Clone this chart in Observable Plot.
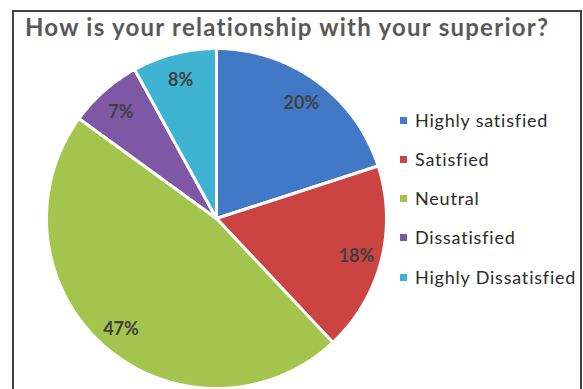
<!DOCTYPE html>
<html><head><meta charset="utf-8">
<script src="https://cdn.jsdelivr.net/npm/d3@7"></script>
<script src="https://cdn.jsdelivr.net/npm/@observablehq/plot@0.6"></script>
<style>
body{margin:0;background:#fff;}
#wrap{position:relative;width:583px;height:389px;overflow:hidden;font-family:Lato,sans-serif;background:#fff;}
#chart{position:absolute;left:0;top:0;}
#frame{position:absolute;left:12px;top:10px;width:566px;height:420px;border:2px solid #444;border-bottom:none;pointer-events:none;}
#title{position:absolute;left:25px;top:12px;font-weight:bold;font-size:24px;letter-spacing:1.25px;color:#595959;white-space:nowrap;}
.row{position:absolute;left:400px;height:20px;line-height:20px;display:flex;align-items:center;font-size:18px;letter-spacing:0.8px;color:#2b2b2b;white-space:nowrap;}
.sw{width:7px;height:7px;margin-right:8px;}
</style></head>
<body>
<div id="wrap">
  <div id="chart"></div>
  <div id="frame"></div>
  <div id="title">How is your relationship with your superior?</div>
  <div id="legend"></div>
</div>
<script>
const categories = ["Highly satisfied","Satisfied","Neutral","Dissatisfied","Highly Dissatisfied"];
const values = [20,18,47,7,8];
const labels = ["20%","18%","47%","7%","8%"];
const colors = ["#4179C6","#CB4441","#A3C54D","#7E57A5","#3EB4D2"];

const total = d3.sum(values);
let acc = 0;
const slices = categories.map((c,i)=>{
  const a0 = acc/total*2*Math.PI; acc += values[i];
  const a1 = acc/total*2*Math.PI;
  return {c, a0, a1, mid:(a0+a1)/2, label:labels[i]};
});
const verts = slices.flatMap(s=>{
  const n = Math.max(2, Math.ceil((s.a1-s.a0)/0.01));
  const pts = [{c:s.c,x:0,y:0}];
  for(let k=0;k<=n;k++){const a=s.a0+(s.a1-s.a0)*k/n; pts.push({c:s.c,x:Math.sin(a),y:Math.cos(a)});}
  pts.push({c:s.c,x:0,y:0});
  return pts;
});
const LR = 0.85;
const plot = Plot.plot({
  width:583, height:389, margin:0,
  style:{fontFamily:"Lato, sans-serif", background:"transparent"},
  x:{domain:[-1,1], range:[46,386], axis:null},
  y:{domain:[-1,1], range:[388,48], axis:null},
  color:{domain:categories, range:colors},
  marks:[
    Plot.line(verts,{x:"x",y:"y",z:"c",fill:"c",stroke:"white",strokeWidth:3,curve:"linear"}),
    Plot.text(slices,{x:d=>LR*Math.sin(d.mid), y:d=>LR*Math.cos(d.mid), text:"label",
      fontSize:18, fontWeight:"bold", fill:"#404040", dy:2})
  ]
});
document.getElementById("chart").appendChild(plot);
const color = plot.scale("color");
const leg = document.getElementById("legend");
const rowTops = [110,149,188,227,267];
categories.forEach((c,i)=>{
  const r = document.createElement("div"); r.className="row"; r.style.top = rowTops[i]+"px";
  const sw = document.createElement("div"); sw.className="sw"; sw.style.background = color.apply(c);
  const t = document.createElement("span"); t.textContent = c;
  r.appendChild(sw); r.appendChild(t); leg.appendChild(r);
});
</script>
</body></html>
